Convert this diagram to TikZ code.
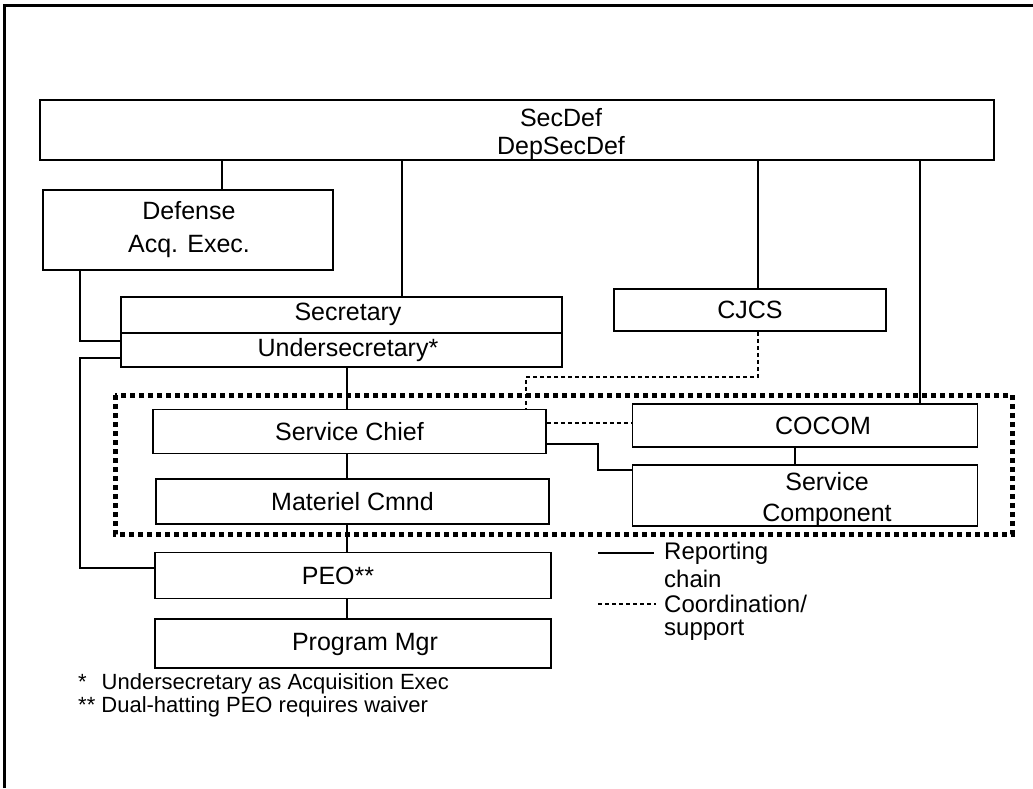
\documentclass[tikz,border=0pt]{standalone}
\usepackage{fontspec}
\setmainfont{Liberation Sans}
\begin{document}
\begin{tikzpicture}[x=1pt,y=-1pt,
  box/.style={draw,line width=1.6pt,inner sep=0pt,font=\fontsize{25}{28}\selectfont,align=center},
  txt/.style={font=\fontsize{25}{28}\selectfont,inner sep=0pt,align=center},
  conn/.style={line width=1.3pt},
  coord/.style={line width=1.1pt,dash pattern=on 4pt off 3pt},
  grp/.style={line width=5pt,dash pattern=on 5pt off 4pt},
  frame/.style={line width=3pt},
  lbl/.style={font=\fontsize{24}{28}\selectfont,inner sep=0pt,anchor=west},
  note/.style={font=\fontsize{22}{23}\selectfont,inner sep=0pt,anchor=north west,align=left}]
\useasboundingbox (0,0) rectangle (1033,788);
% outer frame (top and left edges)
\coordinate (f0) at (4,788);
\coordinate (f1) at (4,5);
\coordinate (f2) at (1033,5);
\draw[frame] (f0) -- (f1) -- (f2);
% group of service / COCOM
\draw[grp] (115,395) rectangle (1012,534);
% boxes
\node[box,minimum width=954pt,minimum height=60pt] (secdef) at (517,130) {};
\node[txt] (secdeftxt) at (561,134) {SecDef\\[0pt]DepSecDef};
\node[box,minimum width=290pt,minimum height=80pt] (defense) at (188,230) {};
\node[txt] (defensetxt) at (189,230) {Defense\\[5pt]Acq. Exec.};
\node[box,minimum width=441pt,minimum height=70pt] (secretary) at (341.5,332) {};
\node[txt] (sectxt) at (348,314) {Secretary};
\node[txt] (undtxt) at (348,350) {Undersecretary*};
\draw[line width=1.6pt] (secretary.west |- 0,333) -- (secretary.east |- 0,333);
\node[box,minimum width=272pt,minimum height=42pt] (cjcs) at (750,310) {CJCS};
\node[box,minimum width=393pt,minimum height=44pt] (chief) at (349.5,431.5) {Service Chief};
\node[box,minimum width=393pt,minimum height=45pt] (materiel) at (352.5,501.5) {Materiel Cmnd};
\node[box,minimum width=345pt,minimum height=43pt] (cocom) at (805,425.5) {};
\node[txt] (cocomtxt) at (823,425.5) {COCOM};
\node[box,minimum width=345pt,minimum height=61pt] (servcomp) at (805,495.5) {};
\node[txt] (sctxt) at (827,500) {Service\\[3pt]Component};
\node[box,minimum width=396pt,minimum height=46pt] (peo) at (353,575.5) {};
\node[txt] (peotxt) at (338,576) {PEO**};
\node[box,minimum width=396pt,minimum height=49pt] (pm) at (353,643.5) {};
\node[txt] (pmtxt) at (365,644) {Program Mgr};
% reference x positions
\coordinate (xa) at (222,0);
\coordinate (xb) at (402,0);
\coordinate (xc) at (758,0);
\coordinate (xd) at (920,0);
\coordinate (xl) at (80,0);
\coordinate (xs) at (347,0);
\coordinate (xq) at (526,0);
\coordinate (xj) at (598,0);
\coordinate (xm) at (795,0);
% reporting chain
\draw[conn] (secdef.south -| xa) -- (defense.north -| xa);
\draw[conn] (secdef.south -| xb) -- (secretary.north -| xb);
\draw[conn] (secdef.south -| xc) -- (cjcs.north -| xc);
\draw[conn] (secdef.south -| xd) -- (cocom.north -| xd);
\coordinate (ya) at (0,341);
\coordinate (yb) at (0,358);
\coordinate (yc) at (0,568);
\draw[conn] (defense.south -| xl) |- (secretary.west |- ya);
\draw[conn] (secretary.west |- yb) -| (xl |- yc) -- (peo.west |- yc);
\draw[conn] (secretary.south -| xs) -- (chief.north -| xs);
\draw[conn] (chief.south -| xs) -- (materiel.north -| xs);
\draw[conn] (materiel.south -| xs) -- (peo.north -| xs);
\draw[conn] (peo.south -| xs) -- (pm.north -| xs);
\coordinate (yd) at (0,444);
\coordinate (ye) at (0,470);
\draw[conn] (chief.east |- yd) -| (xj |- ye) -- (servcomp.west |- ye);
\draw[conn] (cocom.south -| xm) -- (servcomp.north -| xm);
% coordination / support
\coordinate (yf) at (0,377);
\coordinate (yg) at (0,423);
\draw[coord] (cjcs.south -| xc) -- (xc |- yf) -- (xq |- yf) -- (chief.north -| xq);
\draw[coord] (chief.east |- yg) -- (cocom.west |- yg);
% legend
\node[lbl] (lrep) at (664,553) {Reporting};
\node[lbl] (lchain) at (664,579) {chain};
\node[lbl] (lcoord) at (664,604) {Coordination/};
\node[lbl] (lsup) at (664,630) {support};
\coordinate (l1a) at (598,553);
\coordinate (l1b) at (654,553);
\coordinate (l2a) at (598,604);
\coordinate (l2b) at (656,604);
\draw[line width=1.2pt] (l1a) -- (l1b);
\draw[coord] (l2a) -- (l2b);
% footnotes
\node[note] (n1) at (78,673) {*\hspace{15pt}Undersecretary as Acquisition Exec\\** Dual-hatting PEO requires waiver};
\end{tikzpicture}
\end{document}
